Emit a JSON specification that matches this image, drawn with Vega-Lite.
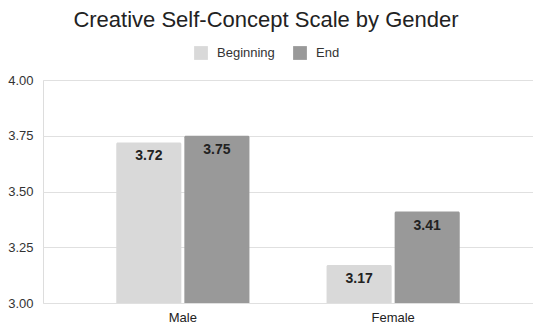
{
  "$schema": "https://vega.github.io/schema/vega-lite/v6.json",
  "autosize": {"type": "none"},
  "padding": {"left": 43, "top": 80, "right": 0, "bottom": 25},
  "width": 490,
  "height": 223,
  "background": "white",
  "title": {
    "text": "Creative Self-Concept Scale by Gender",
    "font": "Liberation Sans",
    "fontSize": 22,
    "fontWeight": "normal",
    "color": "#222222",
    "anchor": "middle",
    "dx": -22,
    "offset": 14
  },
  "data": {
    "values": [
      {"gender": "Male", "time": "Beginning", "score": 3.72},
      {"gender": "Male", "time": "End", "score": 3.75},
      {"gender": "Female", "time": "Beginning", "score": 3.17},
      {"gender": "Female", "time": "End", "score": 3.41}
    ]
  },
  "encoding": {
    "x": {
      "field": "gender",
      "type": "nominal",
      "sort": ["Male", "Female"],
      "scale": {"paddingInner": 0.03, "paddingOuter": 0.18},
      "axis": {
        "title": null,
        "labelAngle": 0,
        "labelFont": "Liberation Sans",
        "labelFontSize": 13,
        "labelColor": "#222222",
        "labelPadding": 8,
        "ticks": false,
        "domain": false,
        "grid": false
      }
    },
    "xOffset": {
      "field": "time",
      "type": "nominal",
      "sort": ["Beginning", "End"],
      "scale": {"paddingInner": 0.044, "paddingOuter": 0.52}
    },
    "y": {
      "field": "score",
      "type": "quantitative",
      "scale": {"domain": [3, 4], "zero": false},
      "axis": {
        "title": null,
        "values": [3, 3.25, 3.5, 3.75, 4],
        "format": ".2f",
        "labelFont": "Liberation Sans",
        "labelFontSize": 13,
        "labelColor": "#333333",
        "labelPadding": 10,
        "ticks": false,
        "domain": false,
        "gridColor": "#e0e0e0",
        "gridWidth": 1
      }
    }
  },
  "layer": [
    {
      "mark": {"type": "bar", "cornerRadiusTopLeft": 1.5, "cornerRadiusTopRight": 1.5},
      "encoding": {
        "y2": {"datum": 3},
        "color": {
          "field": "time",
          "type": "nominal",
          "sort": ["Beginning", "End"],
          "scale": {"domain": ["Beginning", "End"], "range": ["#d9d9d9", "#999999"]},
          "legend": {
            "title": null,
            "orient": "none",
            "direction": "horizontal",
            "legendX": 151,
            "legendY": -34,
            "symbolType": "square",
            "symbolSize": 190,
            "symbolStrokeWidth": 0,
            "labelFont": "Liberation Sans",
            "labelFontSize": 13,
            "labelColor": "#333333",
            "labelOffset": 9,
            "columnPadding": 18
          }
        }
      }
    },
    {
      "mark": {
        "type": "text",
        "baseline": "top",
        "dy": 7,
        "font": "Liberation Sans",
        "fontSize": 14,
        "fontWeight": "bold",
        "color": "#222222"
      },
      "encoding": {
        "text": {"field": "score", "type": "quantitative", "format": ".2f"}
      }
    }
  ]
}
